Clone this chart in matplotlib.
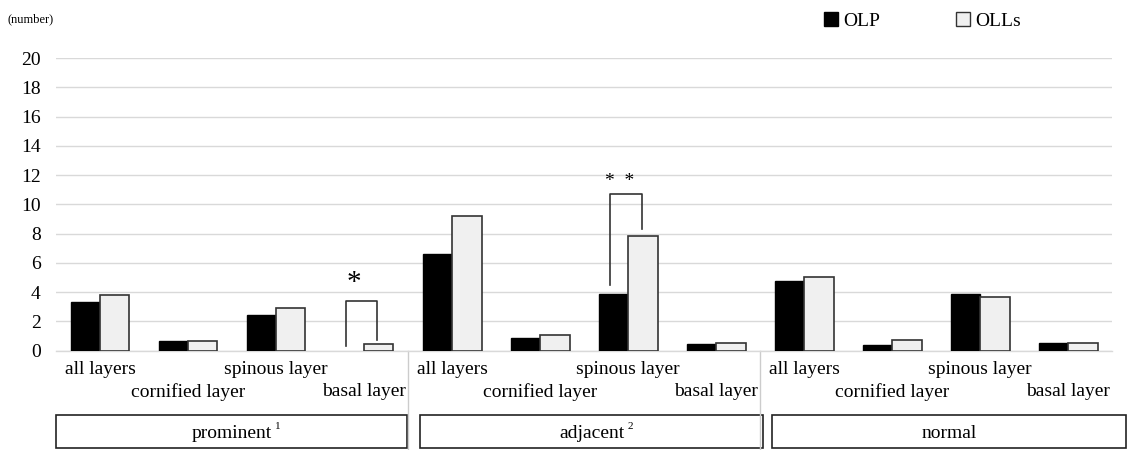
import matplotlib.pyplot as plt
import matplotlib.transforms as mtransforms
from matplotlib.patches import Patch, Rectangle
import numpy as np

plt.rcParams['font.family'] = ['Liberation Serif', 'DejaVu Serif']

# data
groups = ['prominent', 'adjacent', 'normal']
group_sup = ['1', '2', '']
layers = ['all layers', 'cornified layer', 'spinous layer', 'basal layer']
olp = [3.34, 0.65, 2.43, 0.0,
       6.59, 0.88, 3.85, 0.47,
       4.78, 0.40, 3.85, 0.49]
olls = [3.80, 0.65, 2.89, 0.47,
        9.21, 1.04, 7.84, 0.51,
        5.01, 0.72, 3.66, 0.49]

x = np.arange(len(olp))
w = 0.335

fig = plt.figure(figsize=(11.29, 4.5), dpi=100)
ax = fig.add_axes([0.0496, 0.221, 0.9354, 0.650])

lw_olp = [1.0 if v > 0 else 0 for v in olp]
ax.bar(x - w / 2, olp, w, color='black', edgecolor='black', linewidth=lw_olp, zorder=3)
ax.bar(x + w / 2, olls, w, color='#f0f0f0', edgecolor='#333333', linewidth=1.2, zorder=3)

ax.set_xlim(-0.5, len(olp) - 0.5)
ax.set_ylim(0, 20)
ax.set_yticks(range(0, 21, 2))
ax.tick_params(axis='y', length=0, labelsize=14, pad=11)
ax.tick_params(axis='x', length=0)
ax.set_xticks([])
ax.grid(axis='y', color='#d9d9d9', linewidth=1.0, zorder=0)
for s in ['top', 'right', 'left']:
    ax.spines[s].set_visible(False)
ax.spines['bottom'].set_color('#d9d9d9')
ax.spines['bottom'].set_linewidth(1.0)

# category labels, staggered in two rows
trans = mtransforms.blended_transform_factory(ax.transData, fig.transFigure)
for i in range(len(olp)):
    lab = layers[i % 4]
    yy = 1 - 370 / 450 if i % 2 == 0 else 1 - 392 / 450
    ax.text(i, yy, lab, transform=trans, ha='center', va='center', fontsize=14)

# group dividers
for xd in [3.5, 7.5]:
    ax.plot([xd, xd], [1 - 351 / 450, 0], transform=trans, color='#cccccc',
            linewidth=1.0, clip_on=False)

# group boxes
box_x = [(-0.5, 3.49), (3.64, 7.53), (7.64, 11.66)]
for (x0, x1), g, sup in zip(box_x, groups, group_sup):
    r = Rectangle((x0, 1 - 448 / 450), x1 - x0, 33 / 450, transform=trans,
                  facecolor='white', edgecolor='#222222', linewidth=1.2, clip_on=False)
    ax.add_patch(r)
    xc = (x0 + x1) / 2
    t = ax.text(xc, 1 - 433 / 450, g, transform=trans, ha='center',
                va='center', fontsize=14)
    if sup:
        fig.canvas.draw()
        bb = t.get_window_extent()
        fig.text((bb.x1 + 3) / fig.bbox.width, (bb.y1 - 2) / fig.bbox.height, sup,
                 fontsize=8, ha='left', va='center')

# significance brackets
ax.plot([2.80, 2.80, 3.15, 3.15], [0.33, 3.41, 3.41, 0.72], color='#333333',
        linewidth=1.2, zorder=4)
ax.text(2.886, 4.6, '*', ha='center', va='center', fontsize=21)
ax.plot([5.79, 5.79, 6.16, 6.16], [4.5, 10.7, 10.7, 8.3], color='#333333',
        linewidth=1.2, zorder=4)
ax.text(5.91, 11.55, '*  *', ha='center', va='center', fontsize=14)

fig.text(8 / 1129, 1 - 19 / 450, '(number)', fontsize=9, va='center', ha='left')

handles = [Patch(facecolor='black', edgecolor='black', label='OLP'),
           Patch(facecolor='#f0f0f0', edgecolor='#333333', label='OLLs')]
fig.legend(handles=handles, loc='center left', bbox_to_anchor=(806 / 1129, 1 - 21 / 450),
           ncol=2, frameon=False, fontsize=14, handlelength=0.75, handleheight=0.75,
           handletextpad=0.25, columnspacing=3.9)

fig.savefig('out.png', dpi=100)
